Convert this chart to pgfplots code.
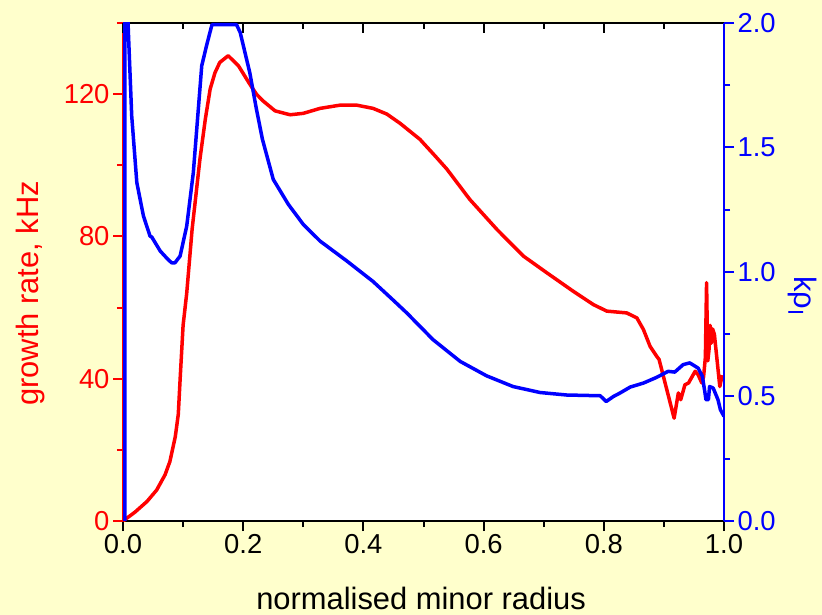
\documentclass[border=0pt]{standalone}
\usepackage{pgfplots}
\pgfplotsset{compat=1.18}
\usepackage{fontspec}
\setmainfont{Liberation Sans}
\definecolor{bgc}{RGB}{255,255,204}
\newcommand{\tickfont}{\fontsize{27.5}{30}\selectfont}
\newcommand{\labfont}{\fontsize{31}{36}\selectfont}
\pgfplotsset{
  common/.style={
    at={(0,0)}, anchor=south west, scale only axis, width=601bp, height=498bp,
    xmin=0, xmax=1,
    /pgf/number format/assume math mode=true,
    tick label style={font=\tickfont},
    major tick length=10bp, minor tick length=6bp,
    tick align=outside,
  }
}
\begin{document}
\begin{tikzpicture}
\fill[bgc] (-123bp,-94bp) rectangle (699bp,521bp);
% left axis: growth rate
\begin{axis}[common, ymin=0, ymax=140,
  axis x line*=bottom, axis y line*=left,
  axis background/.style={fill=white},
  xtick={0,0.2,0.4,0.6,0.8,1.0}, minor xtick={0.1,0.3,0.5,0.7,0.9},
  ytick={0,40,80,120}, minor ytick={20,60,100,140},
  xticklabel style={/pgf/number format/fixed,/pgf/number format/fixed zerofill,/pgf/number format/precision=1},
  x axis line style={black,line width=2bp}, y axis line style={red,line width=2bp},
  xtick style={black,line width=2bp}, ytick style={red,line width=2bp},
  yticklabel style={red},
  xlabel={normalised minor radius}, ylabel={growth rate, kHz},
  every axis x label/.style={at={(rel axis cs:0.496,-0.1787)}, anchor=base, font=\labfont},
  every axis y label/.style={at={(rel axis cs:-0.1547,0.457)}, rotate=90, anchor=center, red, font=\labfont},
]
\addplot[red, line width=3.5bp, line join=round] coordinates {
(0,0) (0.02,2.5) (0.04,5.5) (0.056,8.7) (0.07,13) (0.078,16.7) (0.087,23.7) (0.092,30)
(0.095,39.7) (0.1,55) (0.106,64) (0.115,82) (0.128,101.7) (0.137,113) (0.145,121.4)
(0.153,126) (0.161,128.9) (0.175,130.8) (0.192,128) (0.211,122.8) (0.222,120) (0.233,118.1)
(0.253,115.3) (0.278,114.2) (0.3,114.6) (0.328,116) (0.361,116.9) (0.389,116.9) (0.416,116)
(0.439,114.4) (0.461,111.8) (0.494,107.3) (0.52,102.5) (0.539,98.9) (0.577,90.4) (0.622,82)
(0.666,74.5) (0.705,69.8) (0.749,64.6) (0.783,60.8) (0.805,59) (0.838,58.5) (0.855,57.1)
(0.866,53.8) (0.877,49.1) (0.888,46.3) (0.892,45.4) (0.917,28.9) (0.924,36) (0.928,34.1)
(0.935,38.3) (0.941,38.8) (0.952,42.1) (0.957,41.1) (0.963,38.8) (0.966,40.5) (0.969,46)
(0.971,67) (0.973,45) (0.975,48) (0.977,55) (0.979,50) (0.981,54) (0.984,52.5)
(0.993,37.8) (0.997,41)
};
\end{axis}
% top ticks
\begin{axis}[common, ymin=0, ymax=1, axis x line*=top, axis y line=none,
  tick align=inside,
  xtick={0,0.2,0.4,0.6,0.8,1.0}, minor xtick={0.1,0.3,0.5,0.7,0.9}, xticklabels={},
  x axis line style={black,line width=2bp}, xtick style={black,line width=2bp},
]
\end{axis}
% right axis: k rho
\begin{axis}[common, ymin=0, ymax=2, axis y line*=right, axis x line=none,
  ytick={0,0.5,1,1.5,2}, minor ytick={0.25,0.75,1.25,1.75},
  yticklabel style={blue,/pgf/number format/fixed,/pgf/number format/fixed zerofill,/pgf/number format/precision=1},
  y axis line style={blue,line width=2bp}, ytick style={blue,line width=2bp},
  ylabel={kρ\textsubscript{I}},
  every axis y label/.style={at={(rel axis cs:1.131,0.452)}, rotate=-90, anchor=center, blue, font=\labfont},
]
\addplot[blue, line width=3.5bp, line join=round] coordinates {
(0.003,0) (0.003,2.1) (0.007,2.1) (0.009,1.96) (0.0145,1.627) (0.023,1.359) (0.034,1.225)
(0.045,1.144) (0.048,1.14) (0.062,1.084) (0.075,1.05) (0.081,1.037) (0.0865,1.037)
(0.095,1.064) (0.106,1.184) (0.117,1.399) (0.131,1.828) (0.139,1.909) (0.148,1.993)
(0.189,1.993) (0.195,1.962) (0.211,1.80) (0.222,1.654) (0.232,1.533) (0.25,1.372)
(0.275,1.272) (0.3,1.191) (0.328,1.124) (0.372,1.045) (0.416,0.962) (0.45,0.886)
(0.472,0.836) (0.516,0.728) (0.561,0.641) (0.605,0.583) (0.649,0.540)
(0.694,0.516) (0.738,0.506) (0.794,0.503) (0.804,0.48) (0.816,0.5) (0.827,0.514)
(0.844,0.538) (0.866,0.554) (0.888,0.577) (0.907,0.601) (0.918,0.598) (0.932,0.628)
(0.943,0.635) (0.957,0.614) (0.964,0.581) (0.968,0.52) (0.970,0.487) (0.974,0.487)
(0.976,0.54) (0.982,0.534) (0.99,0.487) (0.994,0.447) (1.0,0.42)
};
\end{axis}
\end{tikzpicture}
\end{document}
